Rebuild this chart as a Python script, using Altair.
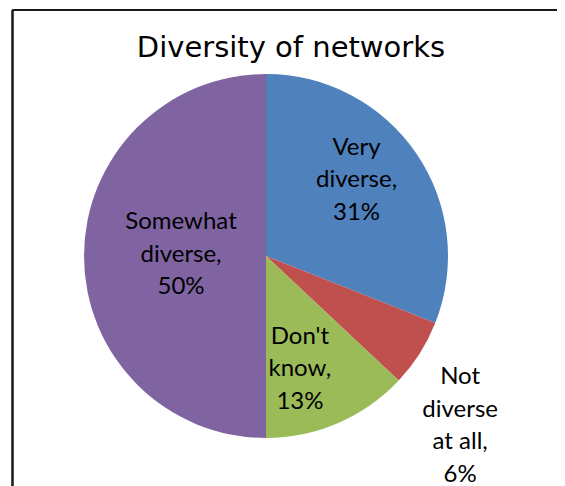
import altair as alt
import pandas as pd

# ---- data ----
categories = ["Very diverse", "Not diverse at all", "Don't know", "Somewhat diverse"]
values = [31, 6, 13, 50]
label_texts = ["Very\ndiverse,\n31%", "Not\ndiverse\nat all,\n6%", "Don't\nknow,\n13%", "Somewhat\ndiverse,\n50%"]
colors = ["#4F81BD", "#C0504D", "#9BBB59", "#8064A2"]

# label placement (style): distance from centre and angular shift in degrees
label_radius = [118, 258, 118, 85]
label_shift = [-5.7, 8.8, 6.7, 0.7]

df = pd.DataFrame({
    "category": categories,
    "value": values,
    "label": label_texts,
    "order": list(range(len(categories))),
    "lr": label_radius,
    "shift": label_shift,
})

W, H, PAD_TOP = 549, 476, 2
CX, CY, R = 258, 246, 182
FONT = "Lato"
LH = 32.5

base = alt.Chart(df)

pie = base.mark_arc(radius=R).encode(
    theta=alt.Theta("value:Q", stack=True),
    order=alt.Order("order:Q"),
    color=alt.Color("category:N", scale=alt.Scale(domain=categories, range=colors), legend=None),
    x=alt.value(CX),
    y=alt.value(CY),
)

labels = base.transform_joinaggregate(
    total="sum(value)"
).transform_window(
    cum="sum(value)", sort=[alt.SortField("order")], frame=[None, 0]
).transform_calculate(
    mid="(datum.cum - datum.value/2)/datum.total*2*PI + datum.shift*PI/180",
    nl="length(split(datum.label, '\\n'))",
).transform_calculate(
    lx=f"{CX} + datum.lr*sin(datum.mid)",
    ly=f"{CY} - datum.lr*cos(datum.mid) - (datum.nl - 1)/2*{LH}",
).mark_text(
    font=FONT, fontSize=24, lineBreak="\n", lineHeight=LH,
    align="center", baseline="middle", color="black",
).encode(
    x=alt.X("lx:Q", scale=None),
    y=alt.Y("ly:Q", scale=None),
    text="label:N",
)

frame_left = base.mark_rule(color="#1a1a1a", strokeWidth=1.6).encode(
    x=alt.value(4.5), y=alt.value(0), y2=alt.value(H + 10)
)
frame_top = base.mark_rule(color="#1a1a1a", strokeWidth=1.6).encode(
    x=alt.value(4.5), x2=alt.value(W + 10), y=alt.value(0)
)

chart = alt.layer(pie, labels, frame_left, frame_top).properties(
    width=W,
    height=H,
    background="white",
    autosize=alt.AutoSizeParams(type="none"),
    padding={"top": PAD_TOP, "left": 0, "right": 0, "bottom": 0},
    title=alt.TitleParams(
        "Diversity of networks", font="DejaVu Sans", fontSize=29, fontWeight="normal",
        color="black", anchor="middle", frame="group", baseline="alphabetic",
        offset=0, dx=8.5, dy=77,
    ),
).configure_view(stroke=None)

chart.save("out.html", embed_options={"renderer": "svg", "actions": False})
